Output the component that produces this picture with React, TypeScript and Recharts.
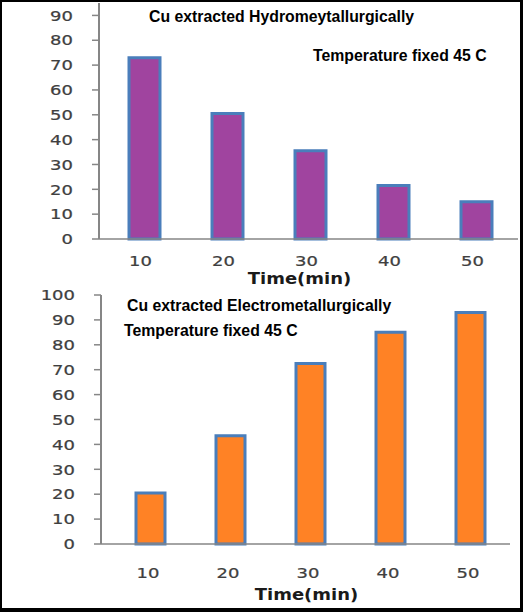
import { BarChart, Bar, XAxis, YAxis, Label } from "recharts";

const times = ["10", "20", "30", "40", "50"];
const hydroValues = [73, 50.5, 35.5, 21.5, 15];
const electroValues = [20.5, 43.5, 72.5, 85, 93];
const hydroTicks = [0, 10, 20, 30, 40, 50, 60, 70, 80, 90];
const electroTicks = [0, 10, 20, 30, 40, 50, 60, 70, 80, 90, 100];

const hydroData = times.map((t, i) => ({ time: t, value: hydroValues[i] }));
const electroData = times.map((t, i) => ({ time: t, value: electroValues[i] }));

const AXIS_GREY = "#868686";
const TICK_TEXT = "#3f3f3f";
const BAR_EDGE = "#4A7EBB";
const STRETCH = 1.24;

// the original's tick font is a wide Verdana-like face, stretched sideways
function YTick({ x, y, payload }: any) {
  return (
    <text
      transform={`translate(${x},${y}) scale(${STRETCH},1)`}
      textAnchor="end"
      dy="0.36em"
      fontFamily="DejaVu Sans"
      fontSize={14.5}
      fill={TICK_TEXT}
      stroke={TICK_TEXT}
      strokeWidth={0.25}
    >
      {payload.value}
    </text>
  );
}

function makeXTick(dx: number, dy: number) {
  return function XTick({ x, y, payload }: any) {
    return (
      <text
        transform={`translate(${x + dx},${y + dy}) scale(${STRETCH},1)`}
        textAnchor="middle"
        fontFamily="DejaVu Sans"
        fontSize={14.5}
        fill={TICK_TEXT}
        stroke={TICK_TEXT}
        strokeWidth={0.25}
      >
        {payload.value}
      </text>
    );
  };
}

function axisTitle(dx: number, dy: number) {
  return (props: any) => {
    const vb = props.viewBox || { x: 0, y: 0, width: 0 };
    return (
      <text
        transform={`translate(${vb.x + vb.width / 2 + dx},${vb.y + dy}) scale(1.2,1)`}
        textAnchor="middle"
        fontFamily="DejaVu Sans"
        fontWeight="bold"
        fontSize={15}
        fill="#1a1a1a"
      >
        Time(min)
      </text>
    );
  };
}

const titleStyle: React.CSSProperties = {
  position: "absolute",
  fontFamily: "'Liberation Sans', Arial, sans-serif",
  fontWeight: "bold",
  fontSize: 15.8,
  lineHeight: 1,
  color: "#000",
  whiteSpace: "nowrap",
};

export default function App() {
  return (
    <div
      style={{
        position: "absolute",
        left: 0,
        top: 0,
        width: 523,
        height: 612,
        background: "#fff",
        overflow: "hidden",
      }}
    >
      {/* upper chart: hydrometallurgical */}
      <div style={{ position: "absolute", left: 0, top: 0 }}>
        <BarChart width={523} height={290} data={hydroData} margin={{ top: 3, right: 5, bottom: 0, left: 0 }}>
          <XAxis
            dataKey="time"
            height={51}
            padding={{ left: 4, right: 0 }}
            axisLine={{ stroke: AXIS_GREY, strokeWidth: 1.5 }}
            tickLine={false}
            tickSize={0}
            tickMargin={0}
            tick={makeXTick(-4, 26.5)}
          >
            <Label content={axisTitle(-9, 45)} />
          </XAxis>
          <YAxis
            width={99}
            domain={[0, 95]}
            ticks={hydroTicks}
            interval={0}
            axisLine={{ stroke: AXIS_GREY, strokeWidth: 2 }}
            tickLine={{ stroke: AXIS_GREY, strokeWidth: 1.5 }}
            tickSize={7}
            tickMargin={19}
            tick={<YTick />}
          />
          <Bar
            dataKey="value"
            barSize={31}
            fill="#A0449F"
            stroke={BAR_EDGE}
            strokeWidth={3}
            isAnimationActive={false}
          />
        </BarChart>
      </div>

      {/* lower chart: electrometallurgical */}
      <div style={{ position: "absolute", left: 0, top: 280 }}>
        <BarChart width={523} height={330} data={electroData} margin={{ top: 15, right: 13, bottom: 0, left: 0 }}>
          <XAxis
            dataKey="time"
            height={66}
            padding={{ left: 9, right: 0 }}
            axisLine={{ stroke: AXIS_GREY, strokeWidth: 1.5 }}
            tickLine={false}
            tickSize={0}
            tickMargin={0}
            tick={makeXTick(-2, 33.5)}
          >
            <Label content={axisTitle(1, 56)} />
          </XAxis>
          <YAxis
            width={101}
            domain={[0, 100]}
            ticks={electroTicks}
            interval={0}
            axisLine={{ stroke: AXIS_GREY, strokeWidth: 2 }}
            tickLine={{ stroke: AXIS_GREY, strokeWidth: 1.5 }}
            tickSize={7}
            tickMargin={19}
            tick={<YTick />}
          />
          <Bar
            dataKey="value"
            barSize={29}
            fill="#FF8225"
            stroke={BAR_EDGE}
            strokeWidth={3}
            isAnimationActive={false}
          />
        </BarChart>
      </div>

      <div style={{ ...titleStyle, left: 149, top: 9 }}>Cu extracted Hydromeytallurgically</div>
      <div style={{ ...titleStyle, left: 313, top: 48 }}>Temperature fixed 45 C</div>
      <div style={{ ...titleStyle, left: 127, top: 298 }}>Cu extracted Electrometallurgically</div>
      <div style={{ ...titleStyle, left: 124, top: 323 }}>Temperature fixed 45 C</div>

      {/* black frame round the picture */}
      <div
        style={{
          position: "absolute",
          inset: 0,
          border: "2px solid #000",
          borderRightWidth: 3,
          borderBottomWidth: 4,
          pointerEvents: "none",
        }}
      />
    </div>
  );
}
